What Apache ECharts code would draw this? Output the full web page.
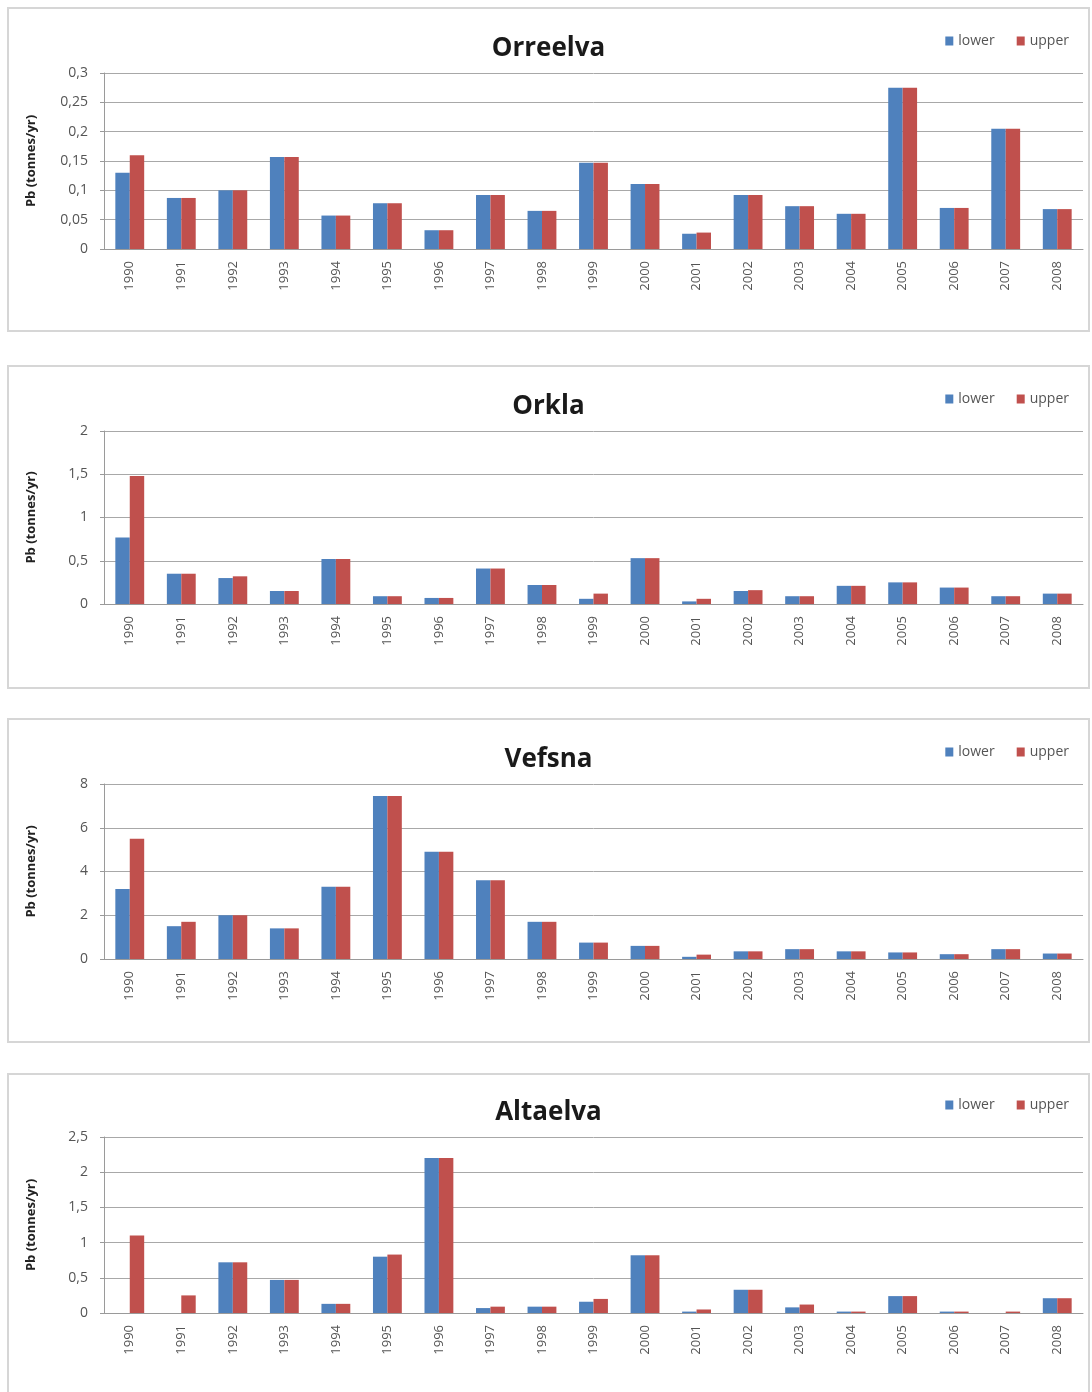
<!DOCTYPE html>
<html>
<head>
<meta charset="utf-8">
<script src="https://cdn.jsdelivr.net/npm/echarts@6/dist/echarts.min.js"></script>
<style>
  html, body { margin: 0; padding: 0; background: #fff; overflow: hidden; width: 1092px; height: 1392px; }
  .panel { position: absolute; box-sizing: border-box; border: 2px solid #d6d6d6; background: #fff; }
  .panel div.chart { width: 100%; height: 100%; }
</style>
</head>
<body>
<div class="panel" style="left:7px; top:7px; width:1083px; height:325px"><div class="chart" id="c0"></div></div>
<div class="panel" style="left:7px; top:365px; width:1083px; height:324px"><div class="chart" id="c1"></div></div>
<div class="panel" style="left:7px; top:718px; width:1083px; height:325px"><div class="chart" id="c2"></div></div>
<div class="panel" style="left:7px; top:1073px; width:1083px; height:330px"><div class="chart" id="c3"></div></div>
<script>
const years = ['1990', '1991', '1992', '1993', '1994', '1995', '1996', '1997', '1998', '1999',
  '2000', '2001', '2002', '2003', '2004', '2005', '2006', '2007', '2008']

const orreelvaLower = [0.13, 0.087, 0.10, 0.157, 0.057, 0.078, 0.032, 0.092, 0.065, 0.147,
  0.111, 0.026, 0.092, 0.073, 0.060, 0.275, 0.070, 0.205, 0.068]
const orreelvaUpper = [0.16, 0.087, 0.10, 0.157, 0.057, 0.078, 0.032, 0.092, 0.065, 0.147,
  0.111, 0.028, 0.092, 0.073, 0.060, 0.275, 0.070, 0.205, 0.068]

const orklaLower = [0.77, 0.35, 0.30, 0.15, 0.52, 0.09, 0.07, 0.41, 0.22, 0.06,
  0.53, 0.03, 0.15, 0.09, 0.21, 0.25, 0.19, 0.09, 0.12]
const orklaUpper = [1.48, 0.35, 0.32, 0.15, 0.52, 0.09, 0.07, 0.41, 0.22, 0.12,
  0.53, 0.06, 0.16, 0.09, 0.21, 0.25, 0.19, 0.09, 0.12]

const vefsnaLower = [3.2, 1.5, 2.0, 1.4, 3.3, 7.45, 4.9, 3.6, 1.7, 0.75,
  0.6, 0.1, 0.35, 0.45, 0.35, 0.3, 0.22, 0.45, 0.25]
const vefsnaUpper = [5.5, 1.7, 2.0, 1.4, 3.3, 7.45, 4.9, 3.6, 1.7, 0.75,
  0.6, 0.2, 0.35, 0.45, 0.35, 0.3, 0.22, 0.45, 0.25]

const altaelvaLower = [0, 0, 0.72, 0.47, 0.13, 0.80, 2.2, 0.07, 0.09, 0.16,
  0.82, 0.02, 0.33, 0.08, 0.02, 0.24, 0.02, 0, 0.21]
const altaelvaUpper = [1.1, 0.25, 0.72, 0.47, 0.13, 0.83, 2.2, 0.09, 0.09, 0.20,
  0.82, 0.05, 0.33, 0.12, 0.02, 0.24, 0.02, 0.02, 0.21]

const panels = [
  { title: 'Orreelva', lower: orreelvaLower, upper: orreelvaUpper, max: 0.3, interval: 0.05, top: 64, bottom: 81 },
  { title: 'Orkla', lower: orklaLower, upper: orklaUpper, max: 2, interval: 0.5, top: 64, bottom: 83 },
  { title: 'Vefsna', lower: vefsnaLower, upper: vefsnaUpper, max: 8, interval: 2, top: 64, bottom: 82 },
  { title: 'Altaelva', lower: altaelvaLower, upper: altaelvaUpper, max: 2.5, interval: 0.5, top: 62, bottom: 88 }
]

const blue = '#4f81bd'
const red = '#c0504d'
const font = 'Open Sans, Noto Sans, sans-serif'

panels.forEach((p, i) => {
  const chart = echarts.init(document.getElementById('c' + i))
  chart.setOption({
    animation: false,
    title: {
      text: p.title,
      left: 'center',
      top: p.top - 42,
      textStyle: { fontFamily: font, fontSize: 26, fontWeight: 'bold', color: '#1a1a1a' }
    },
    legend: {
      right: 14,
      top: p.top - 44,
      itemWidth: 8,
      itemHeight: 9,
      itemGap: 22,
      icon: 'rect',
      textStyle: { fontFamily: font, fontSize: 14, color: '#555' },
      data: ['lower', 'upper']
    },
    grid: { left: 95, right: 5, top: p.top, bottom: p.bottom },
    xAxis: {
      type: 'category',
      data: years,
      axisLine: { lineStyle: { color: '#9a9a9a', width: 1 } },
      axisTick: { show: false },
      axisLabel: { rotate: 90, margin: 12, fontFamily: font, fontSize: 13, color: '#555' }
    },
    yAxis: {
      type: 'value',
      min: 0,
      max: p.max,
      interval: p.interval,
      name: 'Pb (tonnes/yr)',
      nameLocation: 'middle',
      nameRotate: 90,
      nameGap: 66,
      nameTextStyle: { fontFamily: font, fontSize: 13, fontWeight: 'bold', color: '#222' },
      axisLine: { show: true, lineStyle: { color: '#9a9a9a' } },
      axisTick: { show: true, length: 4, lineStyle: { color: '#9a9a9a' } },
      axisLabel: {
        margin: 16,
        fontFamily: font,
        fontSize: 14,
        color: '#555',
        formatter: v => String(+v.toFixed(2)).replace('.', ',')
      },
      splitLine: { lineStyle: { color: '#a8a8a8', width: 1 } }
    },
    series: [
      {
        name: 'lower',
        type: 'bar',
        data: p.lower,
        barGap: '0%',
        barCategoryGap: '44%',
        itemStyle: { color: blue }
      },
      {
        name: 'upper',
        type: 'bar',
        data: p.upper,
        itemStyle: { color: red }
      }
    ]
  })
})
</script>
</body>
</html>
